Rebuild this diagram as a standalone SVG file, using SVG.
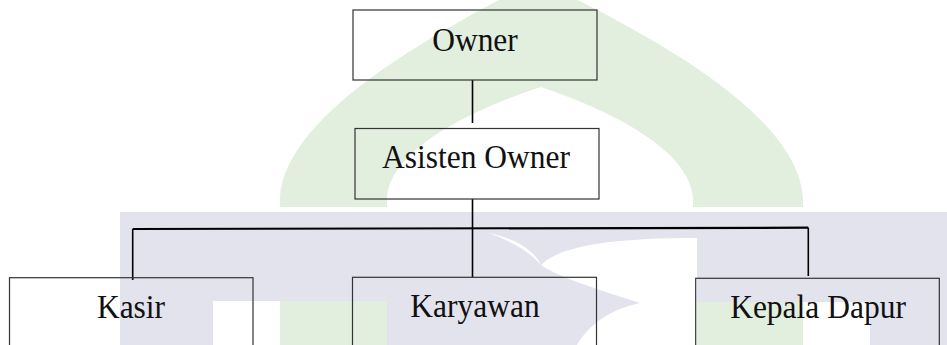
<svg xmlns="http://www.w3.org/2000/svg" width="947" height="345" viewBox="0 0 947 345">
  <style>
    .box { fill: none; stroke: #333333; stroke-width: 1.2; }
    .lbl { font-family: "Liberation Serif", "Times New Roman", serif; font-size: 31.5px; fill: #111111; text-anchor: middle; }
    .con { stroke: #000000; stroke-width: 1.6; fill: none; }
    .bus { stroke: #000000; stroke-width: 2.2; fill: none; }
    .wm-green { fill: #e2efdf; }
    .wm-grey { fill: #e3e3ee; }
    .wm-white { fill: #ffffff; }
  </style>
  <rect width="947" height="345" fill="#ffffff"/>
  <g id="watermark">
    <path class="wm-green" d="M 280 207 L 280 198 C 285 120 410 45 537 -20 C 673 45 798 120 803 198 L 803 207 L 693 207 L 693 198 C 690 150 610 110 541 87 C 470 110 390 150 387 198 L 387 207 Z"/>
    <rect class="wm-grey" x="120" y="212" width="827" height="133"/>
    <rect class="wm-white" x="213" y="301" width="67" height="44"/>
    <rect class="wm-green" x="280" y="301" width="107" height="44"/>
    <path class="wm-white" d="M 488 233 C 515 238 534 250 541 265 C 560 246 610 238 697 238 L 697 345 L 577 345 C 588 326 608 310 640 303 C 600 290 560 278 541 265 C 530 252 510 240 488 233 Z"/>
    <rect class="wm-green" x="697" y="302" width="106" height="43"/>
    <rect class="wm-white" x="803" y="302" width="67" height="43"/>
  </g>
  <g id="connectors">
    <line class="con" x1="472.5" y1="80" x2="472.5" y2="123"/>
    <line class="con" x1="472.5" y1="199" x2="472.5" y2="277.5"/>
    <line class="bus" x1="132.7" y1="229" x2="808.3" y2="227.7"/>
    <line class="con" x1="132.7" y1="229" x2="132.7" y2="280"/>
    <line class="con" x1="808.3" y1="227.7" x2="808.3" y2="276"/>
  </g>
  <g id="owner">
    <rect class="box" x="353" y="10" width="244" height="70"/>
    <text class="lbl" transform="translate(475 51) scale(1 1.07)">Owner</text>
  </g>
  <g id="asisten-owner">
    <rect class="box" x="355" y="128.5" width="244" height="70.5"/>
    <text class="lbl" transform="translate(476 168) scale(1 1.07)">Asisten Owner</text>
  </g>
  <g id="kasir">
    <rect class="box" x="9.5" y="277.7" width="243.5" height="90"/>
    <text class="lbl" transform="translate(131 318) scale(1 1.07)">Kasir</text>
  </g>
  <g id="karyawan">
    <rect class="box" x="352.5" y="277.3" width="244" height="90"/>
    <text class="lbl" transform="translate(475 317) scale(1 1.07)">Karyawan</text>
  </g>
  <g id="kepala-dapur">
    <rect class="box" x="695.7" y="278.3" width="243.6" height="90"/>
    <text class="lbl" transform="translate(818 318) scale(1 1.07)">Kepala Dapur</text>
  </g>
</svg>
